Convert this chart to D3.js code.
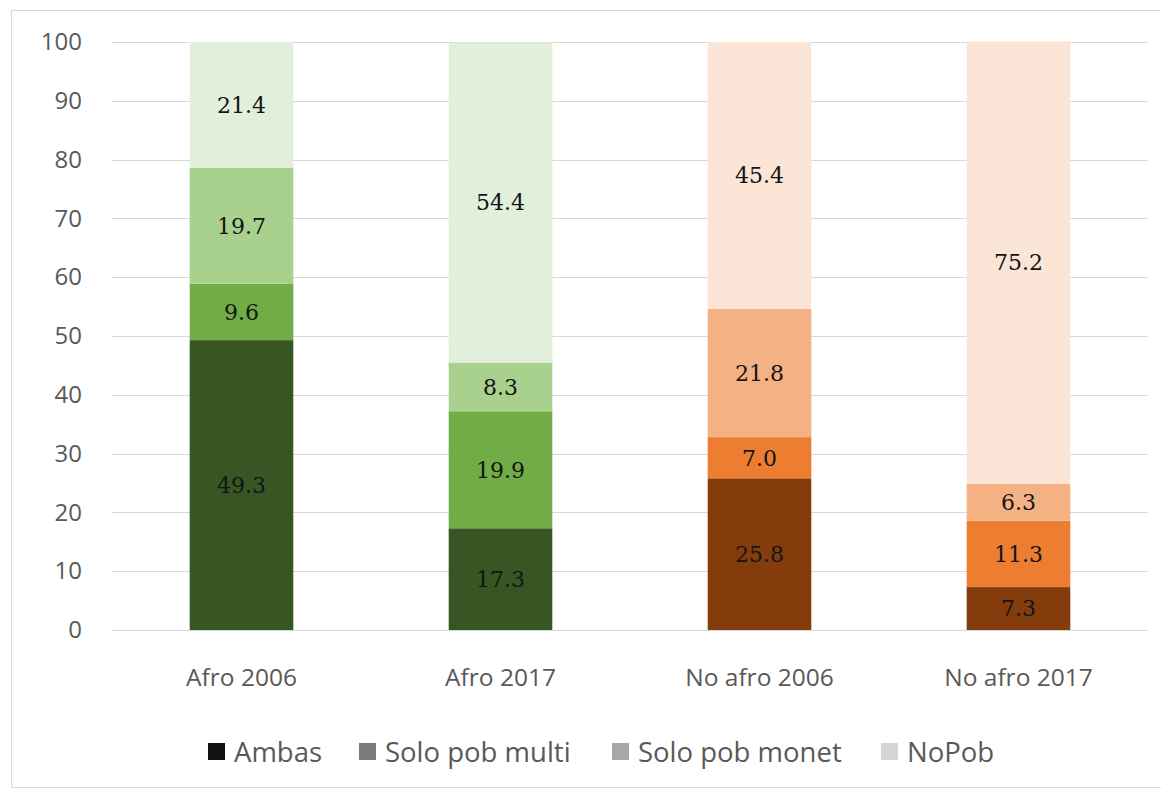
<!DOCTYPE html>
<html><head><meta charset="utf-8">
<script src="https://cdn.jsdelivr.net/npm/d3@7"></script>
<style>body{margin:0;background:#fff;} svg{display:block;}</style>
</head><body>
<svg id="chart" width="1161" height="789"></svg>
<script>
const categories = ["Afro 2006", "Afro 2017", "No afro 2006", "No afro 2017"];
const seriesNames = ["Ambas", "Solo pob multi", "Solo pob monet", "NoPob"];
const ambas = [49.3, 17.3, 25.8, 7.3];
const soloMulti = [9.6, 19.9, 7.0, 11.3];
const soloMonet = [19.7, 8.3, 21.8, 6.3];
const noPob = [21.4, 54.4, 45.4, 75.2];
const yTicks = [0, 10, 20, 30, 40, 50, 60, 70, 80, 90, 100];

const greens = ["#375623", "#70ad47", "#a9d18e", "#e2efda"];
const oranges = ["#843c0c", "#ed7d31", "#f4b183", "#fbe5d6"];
const legendColors = ["#111111", "#7a7a7a", "#a8a8a8", "#d6d6d6"];

const rows = categories.map((c, i) => ({cat: c, Ambas: ambas[i], "Solo pob multi": soloMulti[i], "Solo pob monet": soloMonet[i], NoPob: noPob[i]}));
const stack = d3.stack().keys(seriesNames)(rows);

const svg = d3.select("#chart");
svg.append("rect").attr("x", 11.5).attr("y", 10.5).attr("width", 1160).attr("height", 777)
  .attr("fill", "none").attr("stroke", "#d9d9d9");

const x = d3.scaleBand().domain(categories).range([112, 1148]).paddingInner(0.6).paddingOuter(0.3);
const y = d3.scaleLinear().domain([0, 100]).range([630, 42]);

// gridlines
svg.append("g").selectAll("line").data(yTicks).join("line")
  .attr("x1", 112).attr("x2", 1148)
  .attr("y1", d => Math.round(y(d)) + 0.5).attr("y2", d => Math.round(y(d)) + 0.5)
  .attr("stroke", "#d9d9d9").attr("stroke-width", 1);

// y labels
const yAxis = d3.axisLeft(y).tickValues(yTicks).tickSize(0).tickPadding(0);
const ga = svg.append("g").attr("transform", "translate(82,0)").call(yAxis);
ga.select(".domain").remove();
ga.selectAll("text").attr("font-family", "'Open Sans', sans-serif").attr("font-size", 24).attr("fill", "#595959");

// bars
stack.forEach((s, si) => {
  const g = svg.append("g");
  g.selectAll("rect").data(s).join("rect")
    .attr("x", d => x(d.data.cat))
    .attr("width", x.bandwidth())
    .attr("y", d => y(d[1]))
    .attr("height", d => y(d[0]) - y(d[1]))
    .attr("fill", (d, i) => (i < 2 ? greens : oranges)[si]);
  g.selectAll("text").data(s).join("text")
    .attr("x", d => x(d.data.cat) + x.bandwidth() / 2)
    .attr("y", d => (y(d[0]) + y(d[1])) / 2)
    .attr("dy", "0.36em")
    .attr("text-anchor", "middle")
    .attr("font-family", "'DejaVu Serif', serif")
    .attr("font-size", 22)
    .attr("fill", "#141414")
    .text(d => d.data[s.key].toFixed(1));
});

// baseline
svg.append("line").attr("x1", 112).attr("x2", 1148).attr("y1", 630.5).attr("y2", 630.5).attr("stroke", "#d9d9d9");

// x labels
const xAxis = d3.axisBottom(x).tickSize(0).tickPadding(0);
const gx = svg.append("g").call(xAxis);
gx.select(".domain").remove();
gx.selectAll("text").attr("y", 677).attr("dy", "0.36em")
  .attr("font-family", "'Open Sans', sans-serif").attr("font-size", 24.5).attr("fill", "#595959");

// legend
const legendX = [208, 359, 612, 881];
const lg = svg.append("g");
seriesNames.forEach((n, i) => {
  lg.append("rect").attr("x", legendX[i]).attr("y", 743).attr("width", 17).attr("height", 17).attr("fill", legendColors[i]);
  lg.append("text").attr("x", legendX[i] + 26).attr("y", 752).attr("dy", "0.36em")
    .attr("font-family", "'Open Sans', sans-serif").attr("font-size", 27.5).attr("fill", "#595959").text(n);
});
</script>
</body></html>
